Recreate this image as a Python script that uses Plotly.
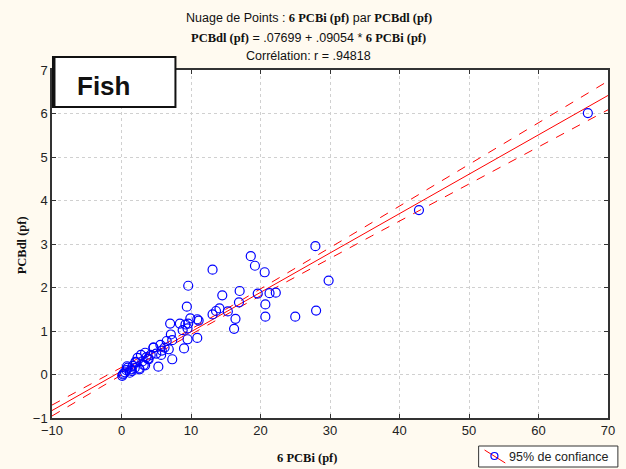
import numpy as np
import plotly.graph_objects as go

# Data
pcbi = [0.1, 0.3, 0.5, 0.7, 0.9, 1.2, 1.4, 1.6, 1.9, 2.1, 2.3, 2.6, 2.8, 3.0, 3.2, 3.4,
        3.6, 3.9, 4.2, 4.6, 5.0, 5.3, 5.6, 5.8, 6.2, 6.5, 6.8, 7.0, 7.1, 7.3, 7.3, 5.7,
        8.4, 8.8, 9.0, 9.2, 9.4, 9.5, 9.6, 9.6, 9.5, 9.9, 10.9, 10.9, 11.1,
        13.1, 13.1, 13.6, 14.1, 14.5, 15.3, 16.2, 16.4, 16.9, 17.0, 18.6, 19.2, 19.6,
        20.6, 20.7, 20.7, 21.3, 22.2, 25.0, 27.9, 28.0, 29.8, 42.8, 67.1,
        0.2, 0.8, 1.5, 2.0, 2.5, 3.4, 3.8, 4.6]
pcbdl = [-0.03, 0.02, 0.05, 0.10, 0.16, 0.04, 0.12, 0.20, 0.15, 0.28, 0.38, 0.12, 0.45, 0.30, 0.22, 0.50,
         0.40, 0.35, 0.45, 0.62, 0.48, 0.18, 0.68, 0.55, 0.62, 0.77, 0.58, 1.17, 0.92, 0.35, 0.79, 0.45,
         1.17, 1.02, 0.60, 1.15, 1.56, 0.81, 2.04, 1.17, 1.06, 1.29, 1.27, 0.84, 1.24,
         2.41, 1.38, 1.46, 1.52, 1.82, 1.45, 1.05, 1.28, 1.66, 1.92, 2.72, 2.50, 1.86,
         2.35, 1.61, 1.33, 1.87, 1.88, 1.33, 2.95, 1.47, 2.16, 3.78, 6.01,
         0.00, 0.19, 0.08, 0.29, 0.14, 0.21, 0.36, 0.62]

intercept = 0.07699
slope = 0.09054
band_halfwidth_at_70 = 0.33
x_ticks = [-10, 0, 10, 20, 30, 40, 50, 60, 70]
y_ticks = [-1, 0, 1, 2, 3, 4, 5, 6, 7]

x = np.array(pcbi)
n = len(x)
xbar = x.mean()
sxx = ((x - xbar) ** 2).sum()
shape_fn = lambda v: np.sqrt(1.0 / n + (v - xbar) ** 2 / sxx)
k = band_halfwidth_at_70 / shape_fn(70.0)

xl = np.linspace(-10, 70, 81)
yl = intercept + slope * xl
hw = k * shape_fn(xl)

RED = "#FF0000"
SERIF = "Liberation Serif, Times New Roman, serif"
SANS = "Liberation Sans, Arial, sans-serif"

# pixel helpers (plot area: x 52..615, y 70..418)
L, R, T, B = 52, 615, 70, 418
W, H = R - L, B - T
px = lambda v: (v - L) / W
py = lambda v: (B - v) / H

fig = go.Figure()
fig.add_trace(go.Scatter(x=xl, y=yl + hw, mode="lines", line=dict(color=RED, width=1, dash="dash"),
                         showlegend=False, hoverinfo="skip"))
fig.add_trace(go.Scatter(x=xl, y=yl - hw, mode="lines", line=dict(color=RED, width=1, dash="dash"),
                         showlegend=False, hoverinfo="skip"))
fig.add_trace(go.Scatter(x=xl, y=yl, mode="lines", line=dict(color=RED, width=1),
                         showlegend=False, hoverinfo="skip"))
fig.add_trace(go.Scatter(x=pcbi, y=pcbdl, mode="markers",
                         marker=dict(symbol="circle-open", size=9, color="#0000FF", line=dict(width=1.2)),
                         showlegend=False))

axis_common = dict(showline=True, linecolor="#333333", linewidth=1.5, mirror="ticks",
                   ticks="inside", ticklen=4, tickcolor="#333333",
                   showgrid=True, gridcolor="#D0D0D0", griddash="dot", gridwidth=1,
                   zeroline=False, tickfont=dict(family=SANS, size=13, color="#222222"))

fig.update_layout(
    width=626, height=469,
    margin=dict(l=L, r=626 - R, t=T, b=469 - B),
    paper_bgcolor="#FFFAF0", plot_bgcolor="#FFFFFF",
    xaxis=dict(range=[-10, 70], tickvals=x_ticks, **axis_common),
    yaxis=dict(range=[-1, 7], tickvals=y_ticks, **axis_common),
    showlegend=False,
)

SB = "<span style='font-family:Liberation Serif'><b>%s</b></span>"
annos = [
    dict(y=18, text="Nuage de Points : " + SB % "6 PCBi (pf)" + " par " + SB % "PCBdl (pf)"),
    dict(y=38, text=SB % "PCBdl (pf)" + " = .07699 + .09054 * " + SB % "6 PCBi (pf)"),
    dict(y=56, text="Corrélation: r = .94818"),
]
for a in annos:
    fig.add_annotation(x=px(312), y=py(a["y"]), xref="paper", yref="paper",
                       text=a["text"], showarrow=False, xanchor="center", yanchor="middle",
                       font=dict(family=SANS, size=12.5, color="#111111"))

fig.add_annotation(x=px(310), y=py(458), xref="paper", yref="paper",
                   text="<b>6 PCBi (pf)</b>", showarrow=False, xanchor="center", yanchor="middle",
                   font=dict(family=SERIF, size=12.5, color="#111111"))
fig.add_annotation(x=px(22), y=py(245), xref="paper", yref="paper",
                   text="<b>PCBdl (pf)</b>", showarrow=False, xanchor="center", yanchor="middle",
                   textangle=-90, font=dict(family=SERIF, size=12.5, color="#111111"))

# Fish box (with heavier left/bottom edge)
fig.add_shape(type="rect", xref="paper", yref="paper",
              x0=px(53), x1=px(177), y0=py(107), y1=py(57),
              line=dict(color="#111111", width=2), fillcolor="#FFFFFF")
fig.add_shape(type="line", xref="paper", yref="paper",
              x0=px(54), x1=px(54), y0=py(107), y1=py(57), line=dict(color="#111111", width=3))
fig.add_annotation(x=px(104), y=py(86), xref="paper", yref="paper",
                   text="<b>Fish</b>", showarrow=False, xanchor="center", yanchor="middle",
                   font=dict(family=SANS, size=26, color="#111111"))

# Manual legend box
fig.add_shape(type="rect", xref="paper", yref="paper",
              x0=px(484), x1=px(625), y0=py(467), y1=py(446),
              line=dict(color="#333333", width=1), fillcolor="#FFFFFF")
fig.add_shape(type="line", xref="paper", yref="paper",
              x0=px(490), x1=px(511), y0=py(450), y1=py(463),
              line=dict(color=RED, width=1))
fig.add_shape(type="circle", xref="paper", yref="paper",
              xsizemode="pixel", ysizemode="pixel", xanchor=px(500), yanchor=py(456),
              x0=-3.5, x1=3.5, y0=-3.5, y1=3.5,
              line=dict(color="#0000FF", width=1.2), fillcolor="rgba(0,0,0,0)")
fig.add_annotation(x=px(513), y=py(456.5), xref="paper", yref="paper",
                   text="95% de confiance", showarrow=False, xanchor="left", yanchor="middle",
                   font=dict(family=SANS, size=12.5, color="#222222"))

fig.write_html("out.html")
